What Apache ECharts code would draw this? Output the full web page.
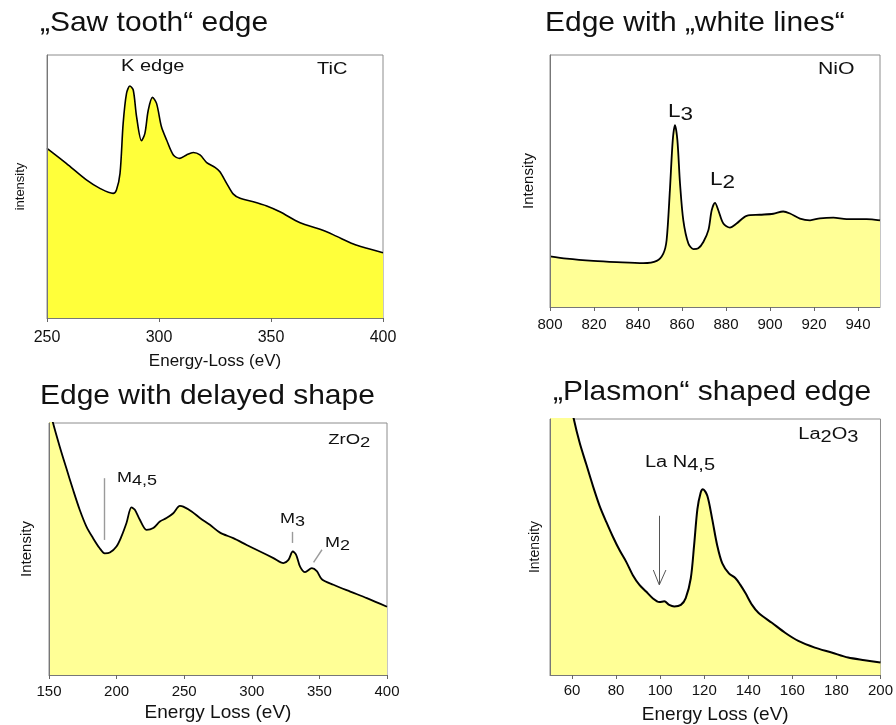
<!DOCTYPE html>
<html><head><meta charset="utf-8">
<script src="https://cdn.jsdelivr.net/npm/echarts@6/dist/echarts.min.js"></script>
<style>html,body{margin:0;padding:0;background:#fff}#c{width:896px;height:725px}</style>
</head><body><div id="c"></div>
<script>
// ---- TiC (saw tooth) ----
const ticEnergy = [250,258.6,267.6,273.6,279.5,281,282.6,284,285.5,287,288.5,290,292.2,293.7,295.2,297.1,298.9,301.1,303.4,306.4,309.3,312.3,315.3,318.3,321.3,325,327.2,330.2,333.2,336.2,342.1,348.1,354,363,371.9,377.9,386.8,392.8,400];
const ticIntensity = [64.5,58.8,52.5,49.3,47.4,48.7,55,74,85.4,88.2,86.7,76.5,67.4,70.2,79,83.9,81.6,72.7,67.7,62,60.7,62,62.9,62,59.1,57.3,55.6,51.2,47.1,45.5,44.2,42.6,40.4,36.2,33.7,31.6,28.1,26.5,24.8];
// ---- NiO (white lines) ----
const nioEnergy = [800,807.6,819.7,830.3,842.4,848.5,851.5,853,854.5,855.8,856.8,857.9,859.1,860.6,862.9,865.2,867.4,869.7,872,873.5,875,876.5,878.8,881.8,884.8,889.4,895.4,901.5,906,909.1,913.6,918.2,922.7,928.8,934.8,943.9,950];
const nioIntensity = [20.1,19.2,18.3,17.8,17.4,18.3,21.2,26.5,46.4,66.2,72.2,66.2,49,34.4,25.2,23,23.3,25.8,30.5,38.4,41.3,38.4,33.1,31.5,33.1,36.2,36.6,37,37.9,37.1,35.1,34.4,35.2,35.5,34.9,34.9,34.4];
const nioTicks = [800,820,840,860,880,900,920,940];
// ---- ZrO2 (delayed) ----
const zrEnergy = [150,153,157.9,162.8,167.8,172.7,177.7,182.6,187.5,191.2,195,199.9,203.6,207.3,211,213.5,217.2,222.1,227.1,232,236.9,241.9,246.8,249.3,255.5,261.6,269,276.5,286.3,296.2,306.1,316,323.4,327.1,330.3,332.8,335.7,339.4,344.4,348.1,351.8,360.4,372.8,385.1,400];
const zrIntensity = [107,100,90.7,82.1,73.5,65.6,58.9,54.3,50.3,48.3,48.6,51,55,60.3,66.5,65.6,61.6,57.6,58.3,60.9,62.3,64.2,67.1,66.8,64.9,62.3,59.6,56.5,54.3,51.6,49,46.4,44.4,45.7,49,47.7,43,40.8,42.4,41.2,38,35.8,33.1,30.5,27.1];
const zrMarkers = [[[190.5,78.1],[190.5,53.6]],[[329.9,56.8],[329.9,52.4]],[[351.9,49.7],[345.7,44.7]]];
// ---- La2O3 (plasmon) ----
const laEnergy = [50,55,60.8,63.5,66.5,69.5,72.5,75.6,78.6,81.6,84.6,87.6,90.6,93.6,96.6,99.6,101.9,104.1,106.4,109.4,111.6,113.9,115.4,116.9,118.4,119.4,121.4,123.6,125.9,128.2,131.2,134.2,136.4,138.7,141.7,144.7,150.7,156.7,162.7,170.2,177.8,185.3,192.8,200];
const laIntensity = [152,124,100,90.6,82.2,73.8,66.1,59.7,53.9,48.7,44.2,39,35.2,32.6,30,28.5,28.8,27.4,26.8,27.4,30,37.8,50.6,64.8,71.3,72.6,70,61,50.6,43.6,39.7,37.8,35.2,32,27.4,24.2,20.4,16.5,13.3,10.7,8.8,6.8,5.8,4.9];
const laTicks = [60,80,100,120,140,160,180,200];
const laArrow = [[[99.6,62.2],[99.6,35.2]],[[96.9,41],[99.6,35.2]],[[102.6,41],[99.6,35.2]]];

const FONT = '"Liberation Sans", Arial, sans-serif';
const zip = (a, b) => a.map((v, i) => [v, b[i]]);

const grids = [
  {left: 47, top: 55, width: 336, height: 263},
  {left: 550, top: 55, width: 330, height: 252},
  {left: 49, top: 423, width: 338, height: 252},
  {left: 550, top: 419, width: 333, height: 259}
].map(g => Object.assign(g, {show: true, borderColor: '#8c8c8c', borderWidth: 1, backgroundColor: 'transparent'}));

function xAx(i, o) {
  return Object.assign({
    type: 'value', gridIndex: i, z: 5,
    splitLine: {show: false},
    axisLine: {show: true, onZero: false, lineStyle: {color: '#777', width: 1}},
    axisTick: {show: true, length: 4, lineStyle: {color: '#666'}},
    axisLabel: {color: '#111', fontFamily: FONT},
    nameLocation: 'middle',
    nameTextStyle: {color: '#111', fontFamily: FONT}
  }, o);
}
function yAx(i, name, size, gap) {
  return {
    type: 'value', gridIndex: i, min: 0, max: 100, z: 5,
    splitLine: {show: false}, axisLabel: {show: false}, axisTick: {show: false},
    axisLine: {show: true, lineStyle: {color: '#777', width: 1}},
    name: name, nameLocation: 'middle', nameGap: gap,
    nameTextStyle: {color: '#111', fontFamily: FONT, fontSize: size}
  };
}
const xAxes = [
  xAx(0, {min: 250, max: 400, interval: 50, axisLabel: {color: '#111', fontFamily: FONT, fontSize: 16, margin: 12},
    name: 'Energy-Loss (eV)', nameGap: 35, nameTextStyle: {color: '#111', fontFamily: FONT, fontSize: 17}}),
  xAx(1, {min: 800, max: 950, axisLabel: {color: '#111', fontFamily: FONT, fontSize: 15, margin: 10, customValues: nioTicks},
    axisTick: {show: true, length: 4, lineStyle: {color: '#666'}, customValues: nioTicks}}),
  xAx(2, {min: 150, max: 400, interval: 50, axisLabel: {color: '#111', fontFamily: FONT, fontSize: 15, margin: 9},
    name: 'Energy Loss (eV)', nameGap: 28, nameTextStyle: {color: '#111', fontFamily: FONT, fontSize: 19}}),
  xAx(3, {min: 50, max: 200, axisLabel: {color: '#111', fontFamily: FONT, fontSize: 15, margin: 8, customValues: laTicks},
    axisTick: {show: true, length: 4, lineStyle: {color: '#666'}, customValues: laTicks},
    name: 'Energy Loss (eV)', nameGap: 30, nameTextStyle: {color: '#111', fontFamily: FONT, fontSize: 19}})
];
const yAxes = [
  yAx(0, 'intensity', 13, 20),
  yAx(1, 'Intensity', 15, 14),
  yAx(2, 'Intensity', 15, 15),
  yAx(3, 'Intensity', 14, 8)
];

function spectrum(i, data, fill, width) {
  return {
    type: 'line', xAxisIndex: i, yAxisIndex: i, data: data,
    showSymbol: false, symbol: 'none', smooth: 0.3, clip: true, silent: true,
    lineStyle: {color: '#000', width: width, join: 'round'},
    areaStyle: {color: fill, opacity: 1, origin: 'start'},
    z: 2
  };
}
function marks(list, color, width) {
  return {
    silent: true, symbol: ['none', 'none'], label: {show: false},
    lineStyle: {color: color, width: width, type: 'solid'},
    emphasis: {disabled: true},
    data: list.map(seg => [{coord: seg[0]}, {coord: seg[1]}])
  };
}
const series = [
  spectrum(0, zip(ticEnergy, ticIntensity), '#FFFF3A', 1.6),
  spectrum(1, zip(nioEnergy, nioIntensity), '#FFFF96', 1.8),
  Object.assign(spectrum(2, zip(zrEnergy, zrIntensity), '#FFFF96', 1.8), {markLine: marks(zrMarkers, '#9a9a9a', 1.4)}),
  Object.assign(spectrum(3, zip(laEnergy, laIntensity), '#FFFF96', 2), {markLine: marks(laArrow, '#555', 1)})
];

// measure text width so subscripts sit right after the main text
const mctx = document.createElement('canvas').getContext('2d');
function tw(text, size) { mctx.font = size + 'px ' + FONT; return mctx.measureText(text).width; }
function txt(text, x, y, size, sx) {
  return {type: 'text', x: x, y: y, scaleX: sx || 1, silent: true, z: 10,
    style: {text: text, fontSize: size, fontFamily: FONT, fill: '#111', align: 'left', verticalAlign: 'middle'}};
}
// parts: [text, dy]
function chain(parts, x, y, size, sx) {
  const out = [];
  let cx = x;
  parts.forEach(p => {
    out.push(txt(p[0], cx, y + p[1], size, sx));
    cx += tw(p[0], size) * sx;
  });
  return out;
}
const graphic = [
  txt('\u201ESaw tooth\u201C edge', 40, 23.5, 28, 1.07),
  txt('Edge with \u201Ewhite lines\u201C', 545, 23.5, 28, 1.07),
  txt('Edge with delayed shape', 40, 396, 28, 1.07),
  txt('\u201EPlasmon\u201C shaped edge', 553, 392, 28, 1.07),
  txt('K edge', 121, 66.7, 16, 1.25),
  txt('TiC', 317, 70, 16, 1.25),
  txt('NiO', 818, 69, 17, 1.25),
  ...chain([['L', 0], ['3', 3]], 668, 111.7, 18, 1.25),
  ...chain([['L', 0], ['2', 3]], 710, 180, 18, 1.25),
  ...chain([['ZrO', 0], ['2', 3]], 328.3, 440, 15, 1.23),
  ...chain([['M', 0], ['4,5', 3]], 117, 478, 15, 1.2),
  ...chain([['M', 0], ['3', 3]], 280, 519, 15, 1.2),
  ...chain([['M', 0], ['2', 3]], 325, 543, 15, 1.2),
  ...chain([['La', 0], ['2', 3], ['O', 0], ['3', 3]], 798.3, 435, 16, 1.25),
  ...chain([['La N', 0], ['4,5', 3]], 645, 463, 16, 1.25)
];

const chart = echarts.init(document.getElementById('c'), null, {renderer: 'canvas'});
chart.setOption({
  animation: false,
  backgroundColor: '#fff',
  textStyle: {fontFamily: FONT},
  grid: grids, xAxis: xAxes, yAxis: yAxes, series: series, graphic: graphic
});
</script>
</body></html>
